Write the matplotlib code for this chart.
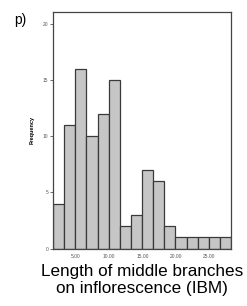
import numpy as np
import matplotlib
matplotlib.use("Agg")
import matplotlib.pyplot as plt

plt.rcParams['font.family'] = ['Liberation Sans', 'DejaVu Sans']

# histogram bins (bin edges) and counts
bin_edges = np.linspace(1.55, 28.3, 17)
counts = [4, 11, 16, 10, 12, 15, 2, 3, 7, 6, 2, 1, 1, 1, 1, 1]
xticks = [5, 10, 15, 20, 25]
xticklabels = ["5.00", "10.00", "15.00", "20.00", "25.00"]
yticks = [0, 5, 10, 15, 20]

fig = plt.figure(figsize=(2.47, 3.06), dpi=100)
ax = fig.add_axes([53/247, 1 - 248.7/306, 178/247, (248.7 - 12)/306])

ax.bar(bin_edges[:-1], counts, width=np.diff(bin_edges), align='edge',
       color='#c6c6c6', edgecolor='#3a3a3a', linewidth=0.9)

ax.set_xlim(bin_edges[0], bin_edges[-1])
ax.set_ylim(0, 21.05)
ax.set_xticks(xticks)
ax.set_xticklabels(xticklabels)
ax.set_yticks(yticks)
ax.tick_params(axis='both', labelsize=3.5, labelcolor='#555555', color='#555555',
               length=2, width=0.6, pad=1.5)
ax.tick_params(axis='x', length=0, pad=3.5)
for s in ax.spines.values():
    s.set_color('#444444')
    s.set_linewidth(0.9)

ax.set_ylabel("Frequency", fontsize=4, fontweight='bold', labelpad=6)
ax.set_xlabel("Length of middle branches\non inflorescence (IBM)", fontsize=12.3,
              linespacing=1.15, labelpad=4)

fig.text(14/247, 1 - 20/306, "p)", fontsize=10, va='center', ha='left')

fig.savefig("out.png", dpi=100)
